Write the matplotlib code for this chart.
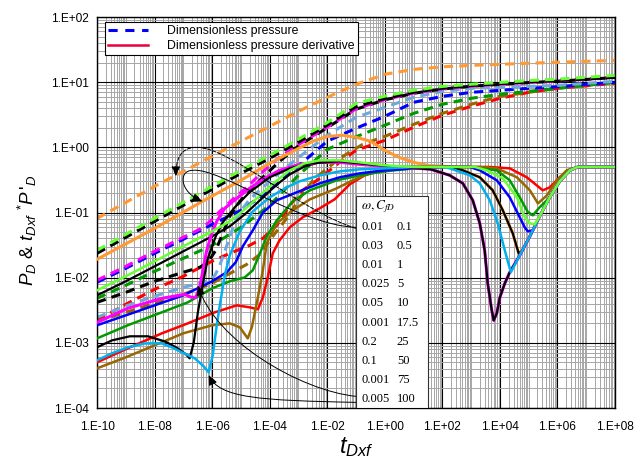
import numpy as np
import matplotlib
matplotlib.use("Agg")
import matplotlib.pyplot as plt
from matplotlib.lines import Line2D
from matplotlib.patches import FancyArrowPatch, Rectangle
from matplotlib.path import Path
from matplotlib.ticker import LogLocator, FuncFormatter, NullFormatter

plt.rcParams['font.family'] = ['Liberation Sans', 'DejaVu Sans']
plt.rcParams['mathtext.fontset'] = 'custom'
plt.rcParams['mathtext.it'] = 'Liberation Sans:italic'
plt.rcParams['mathtext.rm'] = 'Liberation Sans'

# inset table: (omega, CfD) of each type curve
omega = ['0.01', '0.03', '0.01', '0.025', '0.05', '0.001', '0.2', '0.1', '0.001', '0.005']
cfd = ['0.1', '0.5', '1', '5', '10', '17.5', '25', '50', '75', '100']

t_dec = [1e-10, 1e-9, 1e-8, 1e-7, 1e-6, 1e-5, 1e-4, 1e-3, 1e-2, 1e-1,
         1e0, 1e1, 1e2, 1e3, 1e4, 1e5, 1e6, 1e7, 1e8]

# ---- dimensionless pressure P_D ----
p_orange = [0.081, 0.143, 0.252, 0.428, 0.728, 1.24, 2.10, 3.57, 5.85, 9.26,
            13.2, 15.7, 17.2, 18.1, 18.8, 19.5, 20.2, 20.9, 21.6]
p_lgreen = [0.0263, 0.0462, 0.0814, 0.143, 0.252, 0.444, 0.754, 1.33, 2.4, 4.7,
            6.1, 7.5, 8.6, 9.3, 9.9, 10.6, 11.1, 11.9, 12.7]
p_blacka = [0.0236, 0.0416, 0.0732, 0.129, 0.227, 0.399, 0.678, 1.2, 2.2, 4.2,
            5.6, 7.0, 8.1, 8.9, 9.5, 10.1, 10.6, 11.2, 11.9]
p_blue = [0.00848, 0.0139, 0.0236, 0.0388, 0.0658, 0.108, 0.219, 0.52, 1.24, 1.96,
          2.99, 4.9, 6.06, 6.98, 7.49, 8.04, 8.5, 9.26, 9.94]
p_green = [0.00482, 0.00762, 0.0125, 0.0198, 0.0313, 0.0592, 0.129, 0.372, 0.93, 1.45,
           2.18, 3.32, 4.57, 5.65, 6.5, 7.23, 8.04, 8.94, 9.94]

t_p_magenta = [1e-10, 1e-9, 1e-8, 1e-7, 3.7e-7, 7.1e-7, 1e-6, 1.85e-6, 5.2e-6, 1.6e-5,
               5.4e-5, 1.78e-4, 1e-3, 1e-2, 1e-1, 1, 10, 100, 1e3, 1e4, 1e5, 1e6, 1e7, 1e8]
p_magenta = [0.0091, 0.0149, 0.0254, 0.0416, 0.0552, 0.0682, 0.0786, 0.104, 0.159, 0.243,
             0.413, 0.655, 1.10, 2.05, 3.9, 5.4, 6.8, 7.9, 8.7, 9.3, 9.9, 10.4, 11.1, 11.9]

t_p_blackb = [1e-10, 1e-9, 1e-8, 1e-7, 3.7e-7, 7.1e-7, 1.34e-6, 2.35e-6, 4.1e-6, 9.2e-6,
              2.4e-5, 6.8e-5, 2.2e-4, 1e-3, 1e-2, 1e-1, 1, 10, 100, 1e3, 1e4, 1e5, 1e6, 1e7, 1e8]
p_blackb = [0.00418, 0.00595, 0.00879, 0.0121, 0.0144, 0.0172, 0.0263, 0.0479, 0.0873, 0.148,
            0.235, 0.372, 0.610, 1.05, 2.0, 3.85, 5.35, 6.75, 7.85, 8.65, 9.25, 9.85, 10.35, 11.0, 11.8]

t_p_lblue = [1e-10, 1.17e-9, 5.9e-9, 1e-7, 3.7e-7, 8.3e-7, 1.26e-6, 1.85e-6, 3e-6, 5.2e-6,
             9.2e-6, 2e-5, 5.4e-5, 1.28e-4, 1.1e-3, 1e-2, 1e-1, 1, 10, 100,
             1e3, 1e4, 1e5, 1e6, 1e7, 1e8]
p_lblue = [0.00246, 0.00376, 0.00482, 0.00711, 0.00818, 0.0091, 0.0109, 0.0155, 0.0282, 0.0571,
           0.1, 0.159, 0.235, 0.334, 0.72, 1.53, 2.88, 4.11, 5.85, 7.23,
           8.04, 8.3, 8.6, 8.94, 9.6, 10.3]

t_p_brown = [1e-10, 1e-9, 1e-8, 1e-7, 1e-6, 3.2e-6, 1.6e-5, 4.6e-5, 1.28e-4, 3.9e-4,
             1.1e-3, 3.2e-3, 1e-2, 2.7e-2, 0.17, 1, 10, 100, 1e3, 1e4, 1e5, 1e6, 1e7, 1e8]
p_brown = [0.00214, 0.00294, 0.00404, 0.00555, 0.00818, 0.0109, 0.016, 0.0228, 0.0431, 0.0814,
           0.165, 0.312, 0.476, 0.678, 1.11, 1.47, 2.25, 3.32, 4.57, 6.06, 6.98, 8.04, 8.94, 9.94]

t_p_red = [1e-10, 1e-9, 1e-8, 1e-7, 8.3e-7, 4.1e-6, 2e-5, 5.8e-5, 1.78e-4, 5e-4,
           1.4e-3, 5.5e-3, 2.7e-2, 0.1, 1, 10, 100, 1e3, 1e4, 1e5, 1e6, 1e7, 1e8]
p_red = [0.00221, 0.0039, 0.00662, 0.0105, 0.0172, 0.0236, 0.0313, 0.0402, 0.0636, 0.129,
         0.219, 0.334, 0.589, 0.90, 1.28, 2.03, 3.10, 4.26, 5.65, 6.98, 8.04, 8.8, 9.6]

# ---- pressure derivative tDxf * P_D' ----
t_d_orange = [1e-10, 1e-8, 4.6e-7, 1e-5, 1e-4, 1e-3, 3.2e-3, 1e-2, 3.5e-2, 0.106,
              0.32, 1, 3.1, 10, 31, 100, 318, 515, 2000, 5640,
              1.26e4, 2.8e4, 4.5e4, 5.8e4, 1.1e5, 2.4e5, 5.4e5, 1.2e6, 2.7e6, 5.1e6, 1e8]
d_orange = [0.0191, 0.057, 0.148, 0.312, 0.568, 0.965, 1.24, 1.47, 1.53, 1.42,
            1.24, 0.90, 0.703, 0.589, 0.530, 0.511, 0.5, 0.444, 0.347, 0.219,
            0.108, 0.0479, 0.0236, 0.0254, 0.0431, 0.0873, 0.171, 0.301, 0.444, 0.5, 0.5]

t_d_lgreen = [1e-10, 1e-9, 1e-8, 1e-7, 1e-6, 4.1e-6, 1.37e-5, 4.6e-5, 1.5e-4, 5e-4,
              1.66e-3, 5.5e-3, 2.73e-2, 0.135, 1, 10, 1350, 3500, 1.26e4, 3.9e4,
              7.3e4, 1.1e5, 1.6e5, 2.4e5, 5.4e5, 1.2e6, 2.7e6, 5.1e6, 1e8]
d_lgreen = [0.00639, 0.0105, 0.0178, 0.0303, 0.0514, 0.0732, 0.112, 0.183, 0.290, 0.444,
            0.568, 0.632, 0.632, 0.589, 0.530, 0.5, 0.5, 0.444, 0.334, 0.171,
            0.0843, 0.0682, 0.0658, 0.0873, 0.171, 0.301, 0.444, 0.5, 0.5]

t_d_blacka = [1e-10, 1e-9, 1e-8, 1e-7, 1e-6, 4.1e-6, 1.37e-5, 4.6e-5, 1.5e-4, 5e-4,
              1.66e-3, 5.5e-3, 2.73e-2, 0.135, 1, 10, 180, 515, 2000, 5640,
              1.26e4, 2.8e4, 4.5e4, 5.8e4, 1.1e5, 2.4e5, 5.4e5, 1.2e6, 2.7e6, 5.1e6, 1e8]
d_blacka = [0.00536, 0.00879, 0.0149, 0.0254, 0.0431, 0.0613, 0.0938, 0.154, 0.252, 0.385,
            0.511, 0.589, 0.610, 0.568, 0.511, 0.5, 0.5, 0.444, 0.347, 0.219,
            0.108, 0.0479, 0.0236, 0.0254, 0.0431, 0.0873, 0.171, 0.301, 0.444, 0.5, 0.5]

t_d_magenta = [1e-10, 1.17e-9, 1.8e-8, 1.12e-7, 1.9e-7, 2.7e-7, 3.7e-7, 4.8e-7, 6.5e-7, 1e-6,
               1.45e-6, 2.75e-6, 7.2e-6, 2e-5, 6.6e-5, 2.2e-4, 1.1e-3, 5.5e-3, 2.73e-2, 0.135,
               1, 3.3, 40, 180, 515, 1140, 2000, 2960, 3780, 5210,
               6100, 7800, 1e4, 1.48e4, 2.2e4, 4.9e4, 1.1e5, 2.4e5, 5.4e5, 1.2e6,
               2.7e6, 5.1e6, 1e8]
d_magenta = [0.00206, 0.00339, 0.00482, 0.00555, 0.00499, 0.00499, 0.00711, 0.0130, 0.0263, 0.0496,
             0.0732, 0.116, 0.165, 0.235, 0.334, 0.444, 0.548, 0.589, 0.589, 0.548,
             0.511, 0.5, 0.46, 0.372, 0.280, 0.154, 0.0682, 0.0263, 0.00818, 0.00316,
             0.00221, 0.00284, 0.00499, 0.00818, 0.0121, 0.0220, 0.0431, 0.0873, 0.171, 0.301,
             0.444, 0.5, 0.5]

t_d_blackb = [1e-10, 3.3e-10, 1.38e-9, 5.9e-9, 2.3e-8, 6.4e-8, 1.23e-7, 1.66e-7, 2.3e-7, 3.2e-7,
              4.8e-7, 7.1e-7, 1.34e-6, 2.35e-6, 6.1e-6, 2e-5, 1e-4, 5e-4, 2.5e-3, 2.73e-2,
              0.30, 3.3, 40, 180, 515, 1140, 2000, 2960, 3780, 5210,
              6100, 7800, 1e4, 1.48e4, 2.2e4, 4.9e4, 1.1e5, 2.4e5, 5.4e5, 1.2e6,
              2.7e6, 5.1e6, 1e8]
d_blackb = [0.000853, 0.00109, 0.00126, 0.00126, 0.00105, 0.000824, 0.000666, 0.000578, 0.00101, 0.00294,
            0.00818, 0.0198, 0.0431, 0.0707, 0.120, 0.204, 0.347, 0.476, 0.568, 0.610,
            0.548, 0.5, 0.46, 0.372, 0.280, 0.154, 0.0682, 0.0263, 0.00818, 0.00316,
            0.00221, 0.00284, 0.00499, 0.00818, 0.0121, 0.0220, 0.0431, 0.0873, 0.171, 0.301,
            0.444, 0.5, 0.5]

t_d_blue = [1e-10, 1e-9, 1e-8, 1e-7, 1e-6, 3.2e-6, 6.6e-6, 1.17e-5, 2.6e-5, 5.8e-5,
            1.78e-4, 8.75e-4, 5.5e-3, 2.73e-2, 0.135, 1, 10, 100, 900, 2000,
            7800, 2.2e4, 4.9e4, 7.3e4, 9.3e4, 1.4e5, 2.4e5, 5.4e5, 1.2e6, 2.7e6, 5.1e6, 1e8]
d_blue = [0.00186, 0.00264, 0.00376, 0.00536, 0.00879, 0.0121, 0.0172, 0.0303, 0.0533, 0.1,
          0.154, 0.204, 0.280, 0.347, 0.399, 0.444, 0.476, 0.5, 0.5, 0.444,
          0.312, 0.171, 0.0843, 0.0592, 0.0514, 0.0533, 0.0873, 0.171, 0.301, 0.444, 0.5, 0.5]

t_d_green = [1e-10, 1.17e-9, 1.8e-8, 1.43e-7, 1e-6, 4.1e-6, 1.37e-5, 2.6e-5, 4.6e-5, 7.9e-5,
             1.78e-4, 6.3e-4, 2.5e-3, 2.14e-2, 0.135, 1, 10, 100, 900, 7800,
             2.2e4, 4.9e4, 9.3e4, 1.4e5, 2.4e5, 4.6e5, 1.2e6, 2.7e6, 5.1e6, 1e8]
d_green = [0.00117, 0.00186, 0.00294, 0.00418, 0.00686, 0.00879, 0.0101, 0.0130, 0.0236, 0.0431,
           0.0759, 0.148, 0.219, 0.312, 0.372, 0.428, 0.476, 0.5, 0.5, 0.444,
           0.312, 0.171, 0.102, 0.0905, 0.120, 0.159, 0.301, 0.444, 0.5, 0.5]

t_d_red = [1e-10, 1.17e-9, 1.8e-8, 1.43e-7, 1.24e-6, 7.2e-6, 2e-5, 3.9e-5, 5.8e-5, 8.6e-5,
           1.28e-4, 2.2e-4, 5e-4, 1.4e-3, 5.5e-3, 1.8e-2, 6.1e-2, 0.2, 1, 10,
           4450, 2.2e4, 8.6e4, 1.9e5, 3.1e5, 5.4e5, 1.2e6, 2.7e6, 6e6, 1e8]
d_red = [0.000502, 0.000824, 0.00140, 0.00199, 0.00294, 0.00376, 0.00351, 0.00327, 0.00499, 0.0101,
         0.0236, 0.0374, 0.0592, 0.0843, 0.116, 0.159, 0.271, 0.372, 0.46, 0.5,
         0.5, 0.476, 0.347, 0.261, 0.219, 0.243, 0.347, 0.46, 0.5, 0.5]

t_d_brown = [1e-10, 1e-9, 1e-8, 1e-7, 1e-6, 4.1e-6, 9.2e-6, 1.73e-5, 2.4e-5, 3.9e-5,
             5.8e-5, 7.9e-5, 1.78e-4, 6.3e-4, 2.5e-3, 2.14e-2, 7.7e-2, 0.30, 1, 10,
             2000, 7800, 3.9e4, 1.1e5, 2.1e5, 4.3e5, 9.5e5, 2.1e6, 5.1e6, 1e8]
d_brown = [0.000406, 0.000599, 0.000916, 0.00140, 0.00186, 0.00199, 0.00173, 0.00117, 0.00173, 0.00499,
           0.0130, 0.0337, 0.0682, 0.108, 0.159, 0.235, 0.312, 0.399, 0.444, 0.5,
           0.5, 0.476, 0.347, 0.219, 0.138, 0.183, 0.312, 0.444, 0.5, 0.5]

t_d_cyan = [1e-10, 3.3e-10, 1.17e-9, 4.6e-9, 1.8e-8, 4e-8, 8.9e-8, 2.5e-7, 5.1e-7, 7.6e-7,
            1.05e-6, 1.45e-6, 1.85e-6, 2.75e-6, 4.1e-6, 9.2e-6, 2.6e-5, 1e-4, 3.9e-4, 1.1e-3,
            5.5e-3, 2.73e-2, 0.135, 1, 10, 100, 180, 900, 2000, 4450,
            8450, 1.48e4, 2.4e4, 4.9e4, 1.1e5, 2.4e5, 5.4e5, 1.2e6, 2.7e6, 5.1e6, 1e8]
d_cyan = [0.000539, 0.00069, 0.000853, 0.00098, 0.00098, 0.000853, 0.000715, 0.000578, 0.000436, 0.000353,
          0.000643, 0.00186, 0.00376, 0.0109, 0.0220, 0.0514, 0.104, 0.171, 0.243, 0.301,
          0.372, 0.428, 0.46, 0.476, 0.5, 0.5, 0.476, 0.372, 0.280, 0.154,
          0.0682, 0.0263, 0.0121, 0.0220, 0.0431, 0.0873, 0.171, 0.301, 0.444, 0.5, 0.5]

ORANGE = '#ff9933'
LGREEN = '#66ff33'
MAGENTA = '#ff00ff'
BLUE = '#0000ff'
LBLUE = '#6fa8dc'
CYAN = '#00b0f0'
GREEN = '#009900'
BROWN = '#996600'
RED = '#ff0000'

pressure = [
    (t_p_red, p_red, RED), (t_p_brown, p_brown, BROWN), (t_dec, p_green, GREEN),
    (t_dec, p_blue, BLUE), (t_p_lblue, p_lblue, LBLUE), (t_p_blackb, p_blackb, 'black'),
    (t_p_magenta, p_magenta, MAGENTA), (t_dec, p_blacka, 'black'),
    (t_dec, p_lgreen, LGREEN), (t_dec, p_orange, ORANGE),
]
derivative = [
    (t_d_orange, d_orange, ORANGE, 2.2), (t_d_red, d_red, RED, 1.8),
    (t_d_brown, d_brown, BROWN, 1.8), (t_d_green, d_green, GREEN, 1.8),
    (t_d_blue, d_blue, BLUE, 1.8), (t_d_blacka, d_blacka, 'black', 1.6),
    (t_d_magenta, d_magenta, MAGENTA, 2.2), (t_d_blackb, d_blackb, 'black', 1.6),
    (t_d_cyan, d_cyan, CYAN, 1.8), (t_d_lgreen, d_lgreen, LGREEN, 1.8),
]

fig = plt.figure(figsize=(6.34, 4.69), dpi=100)
ax = fig.add_axes([97 / 634, 1 - 408 / 469, 518 / 634, 391 / 469])
ax.set_xscale('log')
ax.set_yscale('log')

for t, p, c in pressure:
    ax.plot(t, p, color=c, lw=2.2, ls=(0, (3, 2)), dash_capstyle='butt', zorder=2)
for t, d, c, w in derivative:
    ax.plot(t, d, color=c, lw=w, solid_joinstyle='round', zorder=3)

ax.set_xlim(1e-10, 1e8)
ax.set_ylim(1e-4, 1e2)

ax.xaxis.set_major_locator(LogLocator(base=100, numticks=20))
ax.xaxis.set_minor_locator(LogLocator(base=10, subs=np.arange(1, 10), numticks=40))
ax.yaxis.set_major_locator(LogLocator(base=10, numticks=20))
ax.yaxis.set_minor_locator(LogLocator(base=10, subs=np.arange(2, 10), numticks=40))
fmt = FuncFormatter(lambda v, pos: '1.E%+03d' % int(round(np.log10(v))))
ax.xaxis.set_major_formatter(fmt)
ax.yaxis.set_major_formatter(fmt)
ax.xaxis.set_minor_formatter(NullFormatter())
ax.yaxis.set_minor_formatter(NullFormatter())
ax.tick_params(which='both', length=0, labelsize=8.6)
ax.tick_params(axis='x', pad=9)
ax.tick_params(axis='y', pad=6)

ax.grid(which='minor', color='#a6a6a6', lw=0.7)
ax.grid(which='major', color='black', lw=0.8)
ax.set_axisbelow(True)
for s in ax.spines.values():
    s.set_linewidth(1.0)

ax.set_xlabel(r'$t_{Dxf}$', fontsize=17)
ax.xaxis.set_label_coords(0.5, -0.07)
ax.set_ylabel(r"$P_D$ & $t_{Dxf}$ $^{*}P\,'_D$", fontsize=13.5)
ax.yaxis.set_label_coords(-0.112, 0.455)

handles = [Line2D([], [], color=BLUE, lw=2.2, ls=(0, (3, 2.5))),
           Line2D([], [], color='#e8003a', lw=1.8)]
leg = ax.legend(handles, ['Dimensionless pressure', 'Dimensionless pressure derivative'],
                loc='upper left', bbox_to_anchor=(0.015, 0.988), fontsize=8.8,
                frameon=True, fancybox=False, edgecolor='black', framealpha=1,
                borderaxespad=0, handlelength=3.2, handletextpad=1.6,
                borderpad=0.3, labelspacing=0.2)
leg.get_frame().set_linewidth(0.8)
leg.set_zorder(6)

# inset table of (omega, CfD)
ax.add_patch(Rectangle((0.5, 0.0), 0.139, 0.542, transform=ax.transAxes,
                       facecolor='white', edgecolor='#333333', lw=0.8, zorder=5))
ax.text(0.51, 0.515, r'$\omega, C_{fD}$', transform=ax.transAxes, math_fontfamily='stix',
        fontsize=9.5, va='center', zorder=6)
for i, (w, c) in enumerate(zip(omega, cfd)):
    y = 0.4637 - i * 0.0491
    ax.text(0.5097, y, w, transform=ax.transAxes, family='Liberation Serif',
            fontsize=9, va='center', zorder=6)
    ax.text(0.579, y, c, transform=ax.transAxes, family='Liberation Serif',
            fontsize=9, va='center', zorder=6)

# leader lines from the table rows to the curves
C4 = Path.CURVE4
guides = [
    ([(0.098, 0.0571), (1.1e-3, 0.108), (4.1e-6, 1.0), (2.94e-7, 1.0),
      (7.5e-8, 1.0), (5.5e-8, 0.632), (5.5e-8, 0.359)], '--'),
    ([(0.098, 0.0592), (1.1e-3, 0.0636), (1.85e-6, 0.493), (2.15e-7, 0.444),
      (6.4e-8, 0.444), (7.5e-8, 0.204), (4.6e-7, 0.148)], '-'),
    ([(0.098, 1.22e-4), (4.6e-5, 1.31e-4), (1.85e-6, 1.41e-4), (7.6e-7, 3.2e-4)], '-'),
    ([(0.098, 1.51e-4), (1.1e-3, 1.87e-4), (1.24e-6, 1.09e-3), (3.2e-7, 0.00762)], '-'),
]
for verts, ls in guides:
    codes = [Path.MOVETO] + [C4] * (len(verts) - 1)
    arrow = FancyArrowPatch(path=Path(verts, codes),
                            arrowstyle='-|>,head_length=0.5,head_width=0.22',
                            mutation_scale=12, lw=0.7, color='black', linestyle=ls,
                            zorder=4)
    ax.add_patch(arrow)

fig.savefig('out.png', dpi=100)
